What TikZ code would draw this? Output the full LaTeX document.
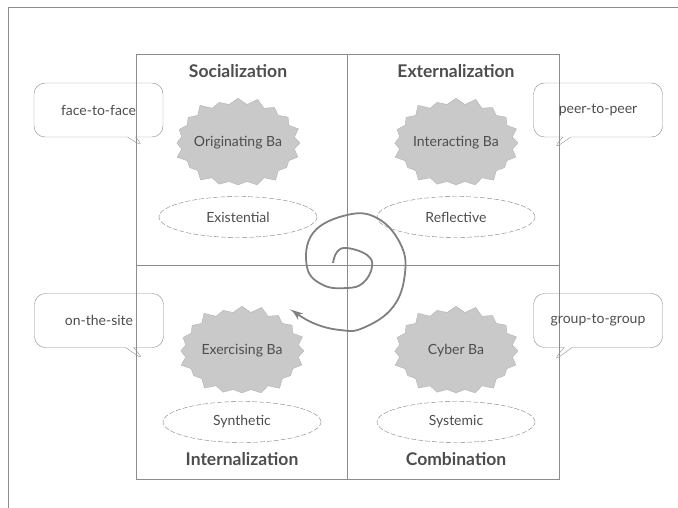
\documentclass[tikz,border=0pt]{standalone}
\usepackage{fontspec}
\setmainfont{Lato}
\usetikzlibrary{shapes.symbols,shapes.geometric,shapes.callouts,arrows.meta}

\definecolor{rulegray}{HTML}{8C8C8C}
\definecolor{inkgray}{HTML}{4D4D4D}
\definecolor{burstgray}{HTML}{C9C9C9}

\begin{document}
\begin{tikzpicture}[
  x=1pt, y=-1pt,
  every node/.style={text=inkgray, font=\fontsize{14}{16}\selectfont},
  mode/.style={font=\bfseries\fontsize{17.5}{20}\selectfont},
  ba/.style={starburst, starburst points=20, starburst point height=8pt, fill=burstgray, draw=gray!60, minimum width=130pt, minimum height=94pt, inner sep=0pt},
  kind/.style={ellipse, draw=gray, dash pattern=on 5pt off 2pt, minimum width=158pt, minimum height=41pt},
  talk/.style={rectangle callout, draw=rulegray, rounded corners=11pt, minimum width=129pt, minimum height=54pt, callout pointer width=8pt},
  node distance=74pt
]
\useasboundingbox (0,0) rectangle (678,508);
\draw[rulegray] (8,508) -- (8,7) -- (678,7);

% the four quadrants
\draw[rulegray] (136,54) rectangle (559,479);
\draw[rulegray] (347.5,54) -- (347.5,479);
\draw[rulegray] (136,265) -- (559,265);

\node[ba, label=center:Originating Ba] (orig) at (238,143) {};
\node[ba, label=center:Interacting Ba] (inter) at (456,143) {};
\node[ba, label=center:Exercising Ba] (exer) at (242,351) {};
\node[ba, label=center:Cyber Ba] (cyber) at (456,351) {};

\node[kind, below of=orig] (exist) {Existential};
\node[kind, below of=inter] (reflect) {Reflective};
\node[kind, below of=exer, node distance=71pt] (synth) {Synthetic};
\node[kind, below of=cyber, node distance=71pt] (system) {Systemic};

\node[mode, above of=orig, node distance=72pt] (social) {Socialization};
\node[mode, above of=inter, node distance=72pt] (extern) {Externalization};
\node[mode, below of=synth, node distance=37pt] (intern) {Internalization};
\node[mode, below of=system, node distance=37pt] (combin) {Combination};

% callouts
\node[talk, callout absolute pointer={(145,148)}] (f2f) at (98.5,110) {face-to-face};
\node[talk, callout absolute pointer={(552,150)}] (p2p) at (598,110) {peer-to-peer};
\node[talk, callout absolute pointer={(145,361)}] (site) at (99,320.5) {on-the-site};
\node[talk, callout absolute pointer={(552,362)}] (g2g) at (598,320.5) {group-to-group};

% spiral
\draw[gray, line width=1.8pt, -{Stealth[length=11pt,width=8pt]}]
  plot[smooth, tension=0.7] coordinates {(333,263) (337,252) (347,248) (367,255) (372,267) (363,283) (347,288) (323,285) (307,267) (313,233) (347,215) (377,218) (400,243) (405,273) (393,307) (363,328) (340,330) (313,323) (292,310)};
\end{tikzpicture}
\end{document}
